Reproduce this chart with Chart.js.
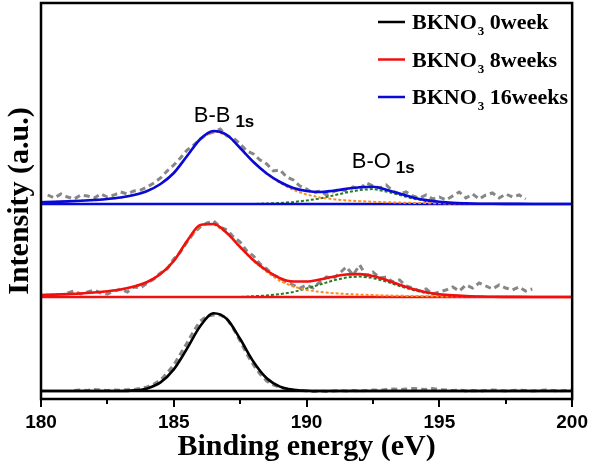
<!DOCTYPE html>
<html>
<head>
<meta charset="utf-8">
<script src="https://cdn.jsdelivr.net/npm/chart.js@4"></script>
<style>
  body { margin: 0; background: #fff; }
  #box { width: 600px; height: 467px; }
</style>
</head>
<body>
<div id="box"><canvas id="xps"></canvas></div>
<script>
// binding energy (eV) of the fitted curves
const fitE = [180,180.5,181,181.5,182,182.5,183,183.5,184,184.5,185,185.5,186,186.5,187,187.5,188,188.5,189,189.5,
  190,190.5,191,191.5,192,192.5,193,193.5,194,194.5,195,195.5,196,196.5,197,197.5,198,198.5,199,199.5,200];
// binding energy of the measured points
const rawE = [180,180.25,180.5,180.75,181,181.25,181.5,181.75,182,182.25,182.5,182.75,183,183.25,183.5,183.75,
  184,184.25,184.5,184.75,185,185.25,185.5,185.75,186,186.25,186.5,186.75,187,187.25,187.5,187.75,
  188,188.25,188.5,188.75,189,189.25,189.5,189.75,190,190.25,190.5,190.75,191,191.25,191.5,191.75,
  192,192.25,192.5,192.75,193,193.25,193.5,193.75,194,194.25,194.5,194.75,195,195.25,195.5,195.75,
  196,196.25,196.5,196.75,197,197.25,197.5,197.75,198,198.25,198.5,198.75,199,199.25,199.5,199.75,200];

// stacked intensities (a.u.), each spectrum sits on its own baseline
const baselines = [8, 102, 195]; // 0week, 8weeks, 16weeks

// 0 week
const fit0 = [8,8,8,8,8,8,8,8.6,10.6,16.6,29.6,50.5,73,85.7,80,60,37.3,20.7,12.4,9.2,
  8.2,8,8,8,8,8,8,8,8,8,8,8,8,8,8,8,8,8,8,8,8];
const raw0 = [null,null,null,null,null,8.5,9,8.5,9.5,9,8.5,9,8.8,9.2,9.5,10.5,
  12,15,19,26,34,45,56,68,78,83,84,84,80,70,58,45,
  34,25,18,14,11.5,10,9,8.5,8,7.5,8,7.5,8,8.5,8,8.5,
  8,8.5,9,8.5,9.5,10,9.5,10,10.5,10,9.5,10.5,9.5,9,8.5,9,
  8,8.5,8,8.5,9,8.5,8,8.5,9,8.5,8,8.5,9,8.5,8,8.5,9];

// 8 weeks
const env8 = [104,104.4,104.9,105.5,106.5,107.7,109.5,112.5,117,125,138,158,174,175,166,152,138.8,128.5,120.8,117.5,
  117.5,119.5,122.3,124.5,124.9,122.9,119,114.2,110,106.8,104.8,103.6,102.9,102.5,102.2,102.15,102.1,102.05,102,102,102];
const bb8 = [104,104.4,104.9,105.5,106.5,107.7,109.5,112.5,117,125,138,158,174,175,166,152,138,127,118,112.5,
  109,107,105.8,105,104.4,103.9,103.5,103.2,103,102.8,102.6,102.5,102.4,102.3,102.2,102.15,102.1,102.05,102,102,102];
const bo8 = [102,102,102,102,102,102,102,102,102,102,102,102,102,102,102,102,102.8,103.5,104.8,107,
  110.5,114.5,118.5,121.5,122.5,121,117.5,113,109,106,104.2,103.1,102.5,102.2,102,102,102,102,102,102,102];
const raw8 = [null,null,null,null,106,108,105,107,109,106,105,108,110,107,112,111,
  116,120,126,130,140,147,157,166,172,176,178,172,169,162,157,148,
  143,135,130,124,121,117,114,111,114,111,117,122,120,126,132,124,
  134,123,127,121,122,117,119,113,111,108,110,105,107,109,112,108,
  114,111,116,113,110,114,111,109,112,108,110,null,null,null,null,null,null];

// 16 weeks
const env16 = [196.8,197.1,197.6,198.2,199,200,201.5,204,208,215,226,243,260,268,264,251,237,225.5,217,211,
  208,207,208.3,210.1,211.8,212.2,209.3,205.4,201.6,198.9,197.2,196.1,195.6,195.3,195.2,195.15,195.1,195.05,195,195,195];
const bb16 = [196.8,197.1,197.6,198.2,199,200,201.5,204,208,215,226,243,260,268,264,251,237,225,216,209,
  204.5,201.5,199.8,198.6,197.8,197.2,196.8,196.4,196.1,195.9,195.7,195.5,195.4,195.3,195.2,195.15,195.1,195.05,195,195,195];
const bo16 = [195,195,195,195,195,195,195,195,195,195,195,195,195,195,195,195,195,195.5,196,197,
  198.5,200.5,203.5,206.5,209,210,207.5,204,200.5,198,196.5,195.6,195.2,195,195,195,195,195,195,195,195];
const raw16 = [null,204,201,205,202,200,204,203,201,205,202,204,207,205,208,209,
  212,216,221,228,234,241,249,254,260,265,267,270,263,261,255,248,
  245,239,235,228,229,222,219,213,210,206,208,204,207,210,208,212,
  210,216,213,211,214,208,205,207,203,201,204,200,202,199,203,207,
  201,205,200,204,206,201,205,202,204,200,null,null,null,null,null,null,null];

const majorTicks = [180, 185, 190, 195, 200];
const minorTicks = [182.5, 187.5, 192.5, 197.5];
const seriesNames = ['0week', '8weeks', '16weeks'];
const seriesColors = ['#000000', '#f01010', '#0a0ad8'];

const pts = (xs, ys) => xs.map((x, i) => ({x: x, y: ys[i]}));
const flat = (v) => [{x: 180, y: v}, {x: 200, y: v}];

const grey = 'rgb(135,135,135)';
const orange = 'rgb(255,140,30)';
const green = 'rgb(35,125,35)';
const serif = "'Times New Roman', 'Liberation Serif', serif";
const sans = "Arial, 'Liberation Sans', sans-serif";

function fitLine(data, color, w) {
  return {data: data, borderColor: color, borderWidth: w, pointRadius: 0, cubicInterpolationMode: 'monotone', fill: false};
}
function dashLine(data, color, w, dash) {
  return {data: data, borderColor: color, borderWidth: w, borderDash: dash, pointRadius: 0, tension: 0, fill: false};
}

const datasets = [
  fitLine(pts(fitE, env16), seriesColors[2], 2.6),
  fitLine(pts(fitE, env8), seriesColors[1], 2.6),
  fitLine(pts(fitE, fit0), seriesColors[0], 2.6),
  dashLine(pts(fitE, bb16), orange, 2, [3, 2]),
  dashLine(pts(fitE, bb8), orange, 2, [3, 2]),
  fitLine(flat(baselines[2]), seriesColors[2], 2.4),
  fitLine(flat(baselines[1]), seriesColors[1], 2.4),
  fitLine(flat(baselines[0]), seriesColors[0], 2.4),
  dashLine(pts(fitE, bo16), green, 2, [3, 2]),
  dashLine(pts(fitE, bo8), green, 2, [3, 2]),
  dashLine(pts(rawE, raw16), grey, 3, [6, 4]),
  dashLine(pts(rawE, raw8), grey, 3, [6, 4]),
  dashLine(pts(rawE, raw0), grey, 3, [6, 4])
];

// peak labels, anchored in data coordinates
const peakLabels = [
  {main: 'B-B', sub: '1s', x: 185.75, y: 277},
  {main: 'B-O', sub: '1s', x: 191.7, y: 231}
];

const decor = {
  id: 'decor',
  afterDraw(chart) {
    const {ctx, chartArea: a, scales: {x, y}} = chart;
    ctx.save();
    // frame
    ctx.strokeStyle = '#000';
    ctx.lineWidth = 2.5;
    ctx.strokeRect(a.left, a.top, a.right - a.left, a.bottom - a.top);
    // tick marks, pointing out
    ctx.lineWidth = 2;
    majorTicks.concat(minorTicks).forEach(v => {
      const px = Math.round(x.getPixelForValue(v));
      const len = majorTicks.includes(v) ? 8 : 5;
      ctx.beginPath();
      ctx.moveTo(px, a.bottom);
      ctx.lineTo(px, a.bottom + len);
      ctx.stroke();
    });
    // peak labels
    ctx.fillStyle = '#000';
    ctx.textBaseline = 'alphabetic';
    peakLabels.forEach(p => {
      const px = x.getPixelForValue(p.x), py = y.getPixelForValue(p.y);
      ctx.font = '22px ' + sans;
      ctx.fillText(p.main, px, py);
      const w = ctx.measureText(p.main).width;
      ctx.font = 'bold 17px ' + sans;
      ctx.fillText(p.sub, px + w + 5, py + 5);
    });
    // legend
    seriesNames.forEach((name, i) => {
      const cy = 22 + i * 37.5;
      ctx.strokeStyle = seriesColors[i];
      ctx.lineWidth = 2.5;
      ctx.beginPath();
      ctx.moveTo(378, cy);
      ctx.lineTo(405, cy);
      ctx.stroke();
      let tx = 412;
      ctx.font = 'bold 22px ' + serif;
      ctx.fillText('BKNO', tx, cy + 7);
      tx += ctx.measureText('BKNO').width + 1;
      ctx.font = 'bold 13px ' + serif;
      ctx.fillText('3', tx, cy + 13);
      tx += ctx.measureText('3').width;
      ctx.font = 'bold 22px ' + serif;
      ctx.fillText(' ' + name, tx, cy + 7);
    });
    ctx.restore();
  }
};

new Chart(document.getElementById('xps'), {
  type: 'line',
  data: {datasets: datasets},
  options: {
    responsive: true,
    maintainAspectRatio: false,
    animation: false,
    layout: {padding: {top: 3, right: 18, left: 0, bottom: 0}},
    plugins: {legend: {display: false}, tooltip: {enabled: false}},
    scales: {
      x: {
        type: 'linear', min: 180, max: 200,
        afterBuildTicks: s => { s.ticks = majorTicks.map(v => ({value: v})); },
        ticks: {font: {family: sans, size: 19, weight: 'bold'}, color: '#000', padding: 12, maxRotation: 0, autoSkip: false},
        grid: {display: false, drawTicks: false},
        border: {display: false},
        title: {display: true, text: 'Binding energy (eV)', color: '#000',
          font: {family: serif, size: 30, weight: 'bold'}, padding: {top: 0, bottom: 2}},
        afterFit: s => { s.height = 68; }
      },
      y: {
        min: 0, max: 396,
        ticks: {display: false},
        grid: {display: false, drawTicks: false},
        border: {display: false},
        title: {display: true, text: 'Intensity (a.u.)', color: '#000',
          font: {family: serif, size: 30, weight: 'bold'}, padding: {top: 2, bottom: 0}},
        afterFit: s => { s.width = 41; }
      }
    }
  },
  plugins: [decor]
});
</script>
</body>
</html>
